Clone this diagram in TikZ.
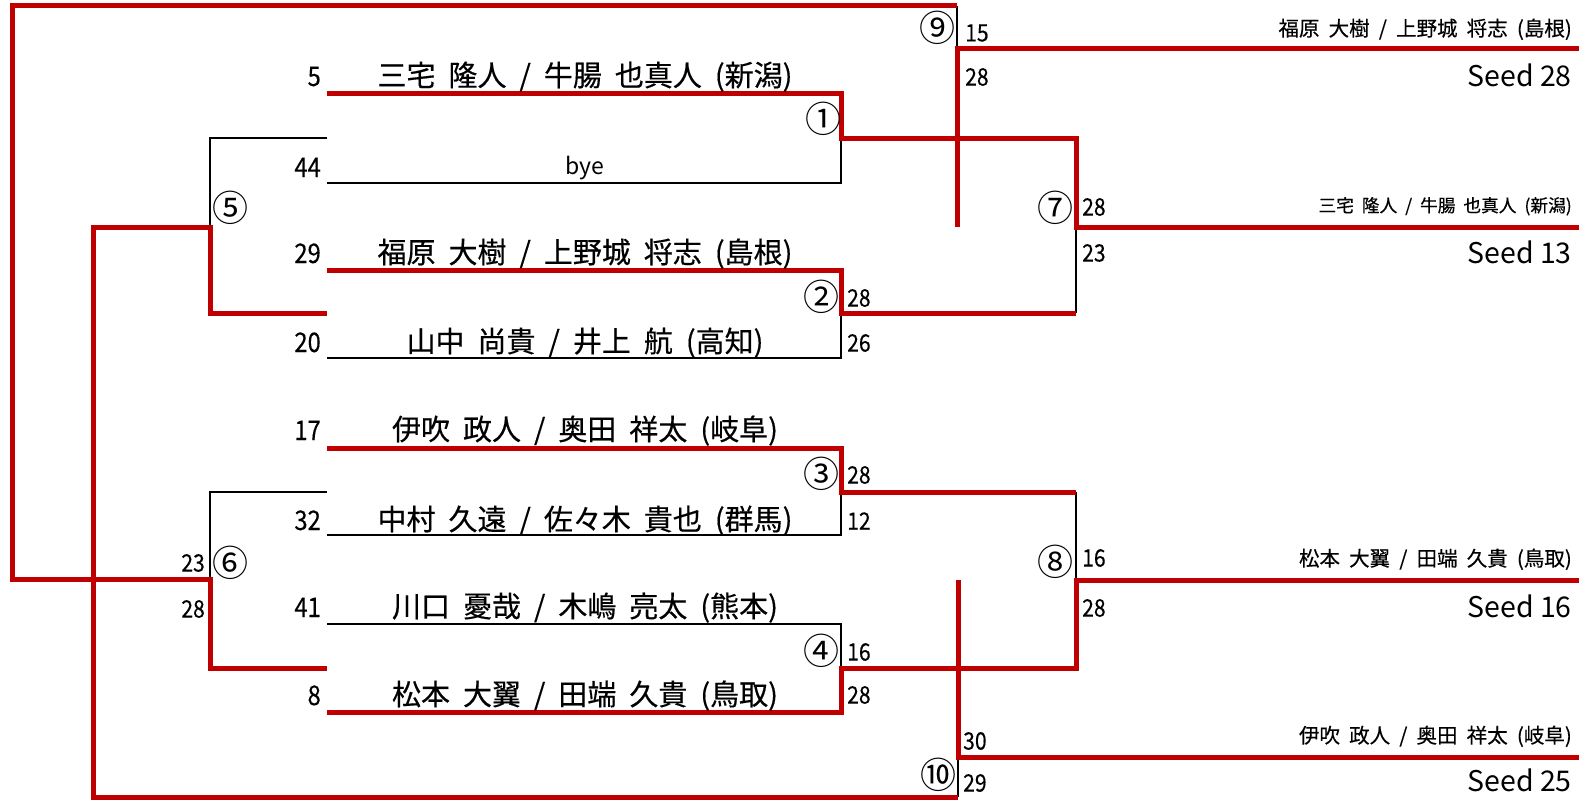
\documentclass[tikz,border=0pt]{standalone}
\usepackage{fontspec}
\setmainfont{Noto Sans CJK JP}
\newfontfamily\jpn[WordSpace=2.0,FakeBold=0.4]{Noto Sans CJK JP}
\newfontfamily\num[FakeStretch=0.88,FakeBold=0.3]{Noto Sans CJK JP}
\definecolor{winred}{RGB}{192,0,0}
\tikzset{
 win/.style={draw=winred, line width=5pt, line join=miter},
 lose/.style={draw=black, line width=1.5pt},
 nm/.style={anchor=base, inner sep=0pt, font=\jpn\fontsize{29pt}{30pt}\selectfont},
 byefont/.style={anchor=base, inner sep=0pt, font=\fontsize{23pt}{25pt}\selectfont},
 seedno/.style={anchor=base east, inner sep=0pt, font=\num\fontsize{27pt}{29pt}\selectfont},
 sc/.style={anchor=west, inner sep=0pt, font=\num\fontsize{24pt}{26pt}\selectfont},
 scl/.style={sc, anchor=east},
 rnd/.style={inner sep=0pt, font=\fontsize{36pt}{38pt}\selectfont},
 rnm/.style={anchor=base east, inner sep=0pt, font=\jpn\fontsize{20.5pt}{22pt}\selectfont},
 seed/.style={anchor=base east, inner sep=0pt, font=\fontsize{28.5pt}{30pt}\selectfont},
}
\begin{document}
\begin{tikzpicture}[x=1pt,y=-1pt]
\useasboundingbox (0,0) rectangle (1583,800);
% row line starts
\coordinate (A1) at (327,94);
\coordinate (A2) at (327,183);
\coordinate (A3) at (327,270);
\coordinate (A4) at (327,358);
\coordinate (A5) at (327,448);
\coordinate (A6) at (327,535);
\coordinate (A7) at (327,624);
\coordinate (A8) at (327,712);
\coordinate (B5t) at (327,138);
\coordinate (B5b) at (327,313);
\coordinate (B6t) at (327,492);
\coordinate (B6b) at (327,668);
% junctions
\coordinate (J1) at (841,138);
\coordinate (J2) at (841,313);
\coordinate (J3) at (841,492);
\coordinate (J4) at (841,668);
\coordinate (J5) at (210,227);
\coordinate (J6) at (210,579);
\coordinate (J7) at (1076,227);
\coordinate (J8) at (1076,580);
\coordinate (J9) at (957,49);
\coordinate (J10) at (958,757);
\coordinate (K9) at (957,227);
\coordinate (K10) at (958,580);
% ends / corners
\coordinate (E9) at (1579,49);
\coordinate (E7) at (1579,227);
\coordinate (E8) at (1579,580);
\coordinate (E10) at (1579,757);
\coordinate (T1) at (12,6);
\coordinate (T2) at (957,6);
\coordinate (BL) at (93,797);
\coordinate (BR) at (958,797);

% losing (black) lines
\draw[lose] (B5t) -| (J5);
\draw[lose] (A2) -| (J1);
\draw[lose] (A4) -| (J2);
\draw[lose] (J2 -| J7) -- (J7);
\draw[lose] (T2) -- (J9);
\draw[lose] (B6t) -| (J6);
\draw[lose] (A6) -| (J3);
\draw[lose] (A7) -| (J4);
\draw[lose] (J3 -| J8) -- (J8);
\draw[lose] (J10) -- (BR);

% winning (red) lines
\draw[win] (T2) -- (T1) |- (J6) |- (B6b);
\draw[win] (E9) -- (J9) -- (K9);
\draw[win] (A1) -| (J1) -| (J7) -- (E7);
\draw[win] (A3) -| (J2) -- (J2 -| J7);
\draw[win] (BR) -- (BL) |- (J5) |- (B5b);
\draw[win] (A5) -| (J3) -- (J3 -| J8);
\draw[win] (A8) -| (J4) -| (J8) -- (E8);
\draw[win] (K10) -- (J10) -- (E10);

% left seed numbers
\node[seedno] (n1) at (321,86) {5};
\node[seedno] (n2) at (321,177) {44};
\node[seedno] (n3) at (321,263) {29};
\node[seedno] (n4) at (321,352) {20};
\node[seedno] (n5) at (321,440) {17};
\node[seedno] (n6) at (321,530) {32};
\node[seedno] (n7) at (321,617) {41};
\node[seedno] (n8) at (321,705) {8};

% names
\node[nm] (p1) at (585,86) {三宅 隆人 / 牛腸 也真人 (新潟)};
\node[byefont] (p2) at (585,174) {bye};
\node[nm] (p3) at (585,263) {福原 大樹 / 上野城 将志 (島根)};
\node[nm] (p4) at (585,352) {山中 尚貴 / 井上 航 (高知)};
\node[nm] (p5) at (585,440) {伊吹 政人 / 奥田 祥太 (岐阜)};
\node[nm] (p6) at (585,530) {中村 久遠 / 佐々木 貴也 (群馬)};
\node[nm] (p7) at (585,617) {川口 憂哉 / 木嶋 亮太 (熊本)};
\node[nm] (p8) at (585,705) {松本 大翼 / 田端 久貴 (鳥取)};

% match numbers
\node[rnd] (m1) at (823,119) {①};
\node[rnd] (m2) at (821,297) {②};
\node[rnd] (m3) at (821,474) {③};
\node[rnd] (m4) at (821,651) {④};
\node[rnd] (m5) at (230,208) {⑤};
\node[rnd] (m6) at (230,563) {⑥};
\node[rnd] (m7) at (1055,208) {⑦};
\node[rnd] (m8) at (1055,562) {⑧};
\node[rnd] (m9) at (937,28) {⑨};
\node[rnd] (m10) at (938,775) {⑩};

% scores
\node[sc] (s9a) at (965,33) {15};
\node[sc] (s9b) at (965,77) {28};
\node[sc] (s2a) at (847,298) {28};
\node[sc] (s2b) at (847,343) {26};
\node[sc] (s3a) at (847,475) {28};
\node[sc] (s3b) at (847,521) {12};
\node[sc] (s4a) at (847,652) {16};
\node[sc] (s4b) at (847,695) {28};
\node[sc] (s7a) at (1082,207) {28};
\node[sc] (s7b) at (1082,253) {23};
\node[sc] (s8a) at (1082,558) {16};
\node[sc] (s8b) at (1082,608) {28};
\node[sc] (s10a) at (963,741) {30};
\node[sc] (s10b) at (963,783) {29};
\node[scl] (s6a) at (205,563) {23};
\node[scl] (s6b) at (205,609) {28};

% right side
\node[rnm] (q1) at (1572,36) {福原 大樹 / 上野城 将志 (島根)};
\node[seed] (d1) at (1572,86) {Seed 28};
\node[rnm, font=\jpn\fontsize{17.7pt}{19pt}\selectfont] (q2) at (1572,212) {三宅 隆人 / 牛腸 也真人 (新潟)};
\node[seed] (d2) at (1572,263) {Seed 13};
\node[rnm] (q3) at (1572,566) {松本 大翼 / 田端 久貴 (鳥取)};
\node[seed] (d3) at (1572,617) {Seed 16};
\node[rnm] (q4) at (1572,743) {伊吹 政人 / 奥田 祥太 (岐阜)};
\node[seed] (d4) at (1572,791) {Seed 25};
\end{tikzpicture}
\end{document}
